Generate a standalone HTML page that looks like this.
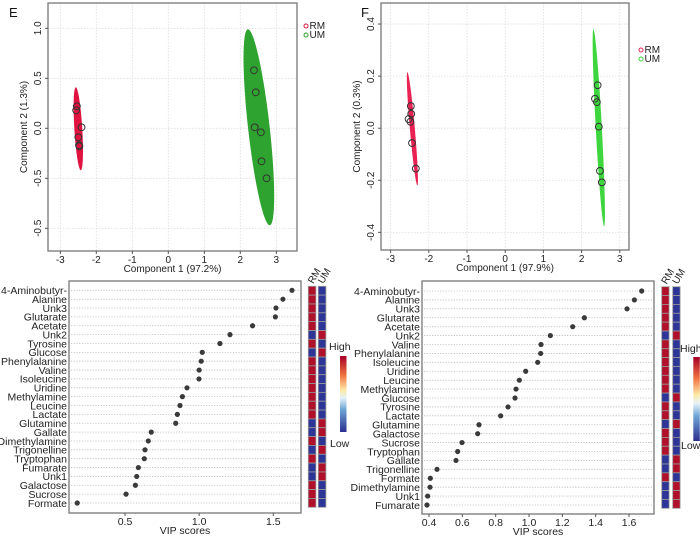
<!DOCTYPE html>
<html><head><meta charset="utf-8"><style>
html,body{margin:0;padding:0;background:#fff;}
svg{display:block;font-family:"Liberation Sans",Arial,sans-serif;}
</style></head><body>
<svg id="c" width="700" height="536" viewBox="0 0 700 536" xmlns="http://www.w3.org/2000/svg">
<defs>
<linearGradient id="cb" x1="0" y1="1" x2="0" y2="0">
<stop offset="0" stop-color="#2b2f8f"/><stop offset="0.3" stop-color="#6fa6d6"/><stop offset="0.45" stop-color="#e6f3f8"/><stop offset="0.55" stop-color="#fde9a6"/><stop offset="0.75" stop-color="#f0703f"/><stop offset="1" stop-color="#a50026"/>
</linearGradient>
</defs>
</svg>
<script>
// ---- Panel E data ----
const eRMx=[-2.54,-2.56,-2.41,-2.50,-2.48,-2.47];
const eRMy=[0.22,0.18,0.01,-0.09,-0.17,-0.18];
const eUMx=[2.38,2.43,2.40,2.57,2.59,2.73];
const eUMy=[0.58,0.36,0.01,-0.04,-0.33,-0.50];
const eXTicks=[-3,-2,-1,0,1,2,3];
const eYTicks=[1.0,0.5,0.0,-0.5,-1.0];
const eYTickLabels=["1.0","0.5","0.0","-0.5","-0.5"];
// ellipse endpoints [x1,y1,x2,y2,halfwidth(data x units)]
const eRMEll=[-2.57,0.41,-2.43,-0.42,0.11];
const eUMEll=[2.21,0.99,2.82,-0.97,0.3];
// ---- Panel F data ----
const fRMx=[-2.47,-2.46,-2.53,-2.48,-2.44,-2.34];
const fRMy=[0.085,0.055,0.035,0.025,-0.057,-0.155];
const fUMx=[2.42,2.35,2.40,2.45,2.48,2.53];
const fUMy=[0.165,0.113,0.10,0.006,-0.164,-0.208];
const fXTicks=[-3,-2,-1,0,1,2,3];
const fYTicks=[0.4,0.2,0.0,-0.2,-0.4];
const fYTickLabels=["0.4","0.2","0.0","-0.2","-0.4"];
const fRMEll=[-2.56,0.215,-2.30,-0.22,0.065];
const fUMEll=[2.31,0.38,2.59,-0.377,0.08];
// ---- Panel G data ----
const gNames=["4-Aminobutyr-","Alanine","Unk3","Glutarate","Acetate","Unk2","Tyrosine","Glucose","Phenylalanine","Valine","Isoleucine","Uridine","Methylamine","Leucine","Lactate","Glutamine","Gallate","Dimethylamine","Trigonelline","Tryptophan","Fumarate","Unk1","Galactose","Sucrose","Formate"];
const gVip=[1.626,1.565,1.518,1.514,1.36,1.208,1.14,1.021,1.014,1.0,0.999,0.918,0.887,0.871,0.853,0.842,0.677,0.657,0.635,0.63,0.59,0.579,0.57,0.507,0.178];
const gRMHigh=[1,1,1,1,1,0,1,0,1,1,1,1,1,1,1,0,0,1,0,1,0,0,1,1,1];
const gXTicks=[0.5,1.0,1.5];
// ---- Panel H data ----
const hNames=["4-Aminobutyr-","Alanine","Unk3","Glutarate","Acetate","Unk2","Valine","Phenylalanine","Isoleucine","Uridine","Leucine","Methylamine","Glucose","Tyrosine","Lactate","Glutamine","Galactose","Sucrose","Tryptophan","Gallate","Trigonelline","Formate","Dimethylamine","Unk1","Fumarate"];
const hVip=[1.676,1.632,1.588,1.332,1.262,1.128,1.072,1.07,1.052,0.98,0.942,0.922,0.916,0.874,0.83,0.70,0.692,0.598,0.572,0.562,0.448,0.408,0.406,0.392,0.388];
const hRMHigh=[1,1,1,1,1,0,1,1,1,1,1,1,0,1,1,0,1,1,1,0,0,1,0,0,0];
const hXTicks=[0.4,0.6,0.8,1.0,1.2,1.4,1.6];

const svg=document.getElementById('c');
const NS='http://www.w3.org/2000/svg';
function el(tag,attrs,parent,text){const e=document.createElementNS(NS,tag);for(const k in attrs)e.setAttribute(k,attrs[k]);if(text!==undefined)e.textContent=text;(parent||svg).appendChild(e);return e;}

function scorePlot(cfg){
  const g=el('g',{});
  
  
  const sx=v=>cfg.x0+v*cfg.kx, sy=v=>cfg.y0-v*cfg.ky;
  cfg.xt.forEach(t=>{const l=el('line',{x1:sx(t),x2:sx(t),y1:cfg.top,y2:cfg.bot,stroke:'#ddd','stroke-dasharray':'1.5,1.5','stroke-width':0.8},g);});
  cfg.yt.forEach(t=>{const l=el('line',{x1:cfg.left,x2:cfg.right,y1:sy(t),y2:sy(t),stroke:'#ddd','stroke-dasharray':'1.5,1.5','stroke-width':0.8},g);});
  [[cfg.rmE,cfg.rmC,'rm-ellipse'],[cfg.umE,cfg.umC,'um-ellipse']].forEach(([e,c,n])=>{
    const x1=sx(e[0]),y1=sy(e[1]),x2=sx(e[2]),y2=sy(e[3]);
    const cx=(x1+x2)/2,cy=(y1+y2)/2,len=Math.hypot(x2-x1,y2-y1)/2;
    const ang=Math.atan2(y2-y1,x2-x1)*180/Math.PI;
    const p=el('ellipse',{cx:cx,cy:cy,rx:len,ry:e[4]*cfg.kx,fill:c,transform:`rotate(${ang} ${cx} ${cy})`},g);
    
  });
  cfg.rmX.forEach((v,i)=>{const c=el('circle',{cx:sx(v),cy:sy(cfg.rmY[i]),r:3.4,fill:'none',stroke:'#333','stroke-width':1},g);});
  cfg.umX.forEach((v,i)=>{const c=el('circle',{cx:sx(v),cy:sy(cfg.umY[i]),r:3.4,fill:'none',stroke:'#333','stroke-width':1},g);});
  const b=el('rect',{x:cfg.left,y:cfg.top,width:cfg.right-cfg.left,height:cfg.bot-cfg.top,fill:'none',stroke:'#777','stroke-width':1.3},g);
  
  cfg.xt.forEach(t=>{el('line',{x1:sx(t),x2:sx(t),y1:cfg.bot,y2:cfg.bot+3,stroke:'#555'},g);const tx=el('text',{x:sx(t),y:cfg.bot+12,'font-size':10,'text-anchor':'middle',fill:'#222'},g,String(t));});
  cfg.yt.forEach((t,i)=>{el('line',{x1:cfg.left-3,x2:cfg.left,y1:sy(t),y2:sy(t),stroke:'#555'},g);const X=cfg.left-7;const tx=el('text',{x:X,y:sy(t),'font-size':10,'text-anchor':'middle',fill:'#222',transform:`rotate(-90 ${X} ${sy(t)})`},g,cfg.ytl[i]);});
  const xt=el('text',{x:(cfg.left+cfg.right)/2,y:cfg.bot+21,'font-size':10,'text-anchor':'middle',fill:'#222'},g,cfg.xTitle);
  const yx=cfg.left-21,yy=(cfg.top+cfg.bot)/2;
  const yt=el('text',{x:yx,y:yy,'font-size':10,'text-anchor':'middle',fill:'#222',transform:`rotate(-90 ${yx} ${yy})`},g,cfg.yTitle);
  const pl=el('text',{x:cfg.labX,y:cfg.labY,'font-size':13,fill:'#111'},g,cfg.label);
  [['RM',cfg.rmC,0],['UM',cfg.umC,1]].forEach(([t,c,i])=>{
    const c1=el('circle',{cx:cfg.legX,cy:cfg.legY+i*9-3,r:2,fill:'none',stroke:c,'stroke-width':1},g);
    const tx=el('text',{x:cfg.legX+3.5,y:cfg.legY+i*9,'font-size':10,fill:'#222'},g,t);
  });
}

scorePlot({name:'score-plot-e',left:48,right:297,top:3,bot:251,x0:168.3,kx:36,y0:128.3,ky:100,xt:eXTicks,yt:eYTicks,ytl:eYTickLabels,
  rmX:eRMx,rmY:eRMy,umX:eUMx,umY:eUMy,rmE:eRMEll,umE:eUMEll,rmC:'#e0123f',umC:'#2fa32f',
  xTitle:'Component 1 (97.2%)',yTitle:'Component 2 (1.3%)',label:'E',labX:9,labY:17,legX:306,legY:29});
scorePlot({name:'score-plot-f',left:381,right:629,top:3,bot:250,x0:505.2,kx:38.2,y0:128.2,ky:260.4,xt:fXTicks,yt:fYTicks,ytl:fYTickLabels,
  rmX:fRMx,rmY:fRMy,umX:fUMx,umY:fUMy,rmE:fRMEll,umE:fUMEll,rmC:'#ea2254',umC:'#3ed63e',
  xTitle:'Component 1 (97.9%)',yTitle:'Component 2 (0.3%)',label:'F',labX:361,labY:17,legX:641,legY:53});

function vipPlot(cfg){
  const g=el('g',{});
  
  
  const sx=v=>cfg.xA+(v-cfg.vA)*cfg.kx;
  const n=cfg.names.length;
  const sy=i=>cfg.r0+i*(cfg.r1-cfg.r0)/(n-1);
  el('rect',{x:cfg.left,y:cfg.top,width:cfg.right-cfg.left,height:cfg.bot-cfg.top,fill:'#fff'},g);
  cfg.names.forEach((nm,i)=>{
    const l=el('line',{x1:cfg.left+2,x2:cfg.right-2,y1:sy(i),y2:sy(i),stroke:'#bbb','stroke-dasharray':'1.2,1.5','stroke-width':0.8},g);
    const t=el('text',{x:cfg.labEnd,y:sy(i)+3.8,'font-size':10.5,'text-anchor':'end',fill:'#222'},g,nm);
  });
  cfg.vip.forEach((v,i)=>{const c=el('circle',{cx:sx(v),cy:sy(i),r:2.6,fill:'#3a3a3a'},g);});
  const b=el('rect',{x:cfg.left,y:cfg.top,width:cfg.right-cfg.left,height:cfg.bot-cfg.top,fill:'none',stroke:'#777','stroke-width':1.3},g);
  cfg.xt.forEach(t=>{el('line',{x1:sx(t),x2:sx(t),y1:cfg.bot,y2:cfg.bot+3,stroke:'#555'},g);const tx=el('text',{x:sx(t),y:cfg.bot+12,'font-size':10.5,'text-anchor':'middle',fill:'#222'},g,t.toFixed(1));});
  const xt=el('text',{x:(cfg.left+cfg.right)/2,y:cfg.bot+21,'font-size':10.5,'text-anchor':'middle',fill:'#222'},g,'VIP scores');
  const pl=el('text',{x:cfg.labX,y:cfg.labY,'font-size':13,fill:'#111'},g,cfg.label);
  const ch=(cfg.hB-cfg.hT)/n;
  cfg.rmHigh.forEach((h,i)=>{
    const r1=el('rect',{x:cfg.hx1,y:cfg.hT+i*ch,width:cfg.cw,height:ch,fill:h?'#b0102a':'#2d3597',stroke:'#999','stroke-width':0.8},g);
    const r2=el('rect',{x:cfg.hx2,y:cfg.hT+i*ch,width:cfg.cw,height:ch,fill:h?'#2d3597':'#b0102a',stroke:'#999','stroke-width':0.8},g);
  });
  [['RM',cfg.hx1],['UM',cfg.hx2]].forEach(([t,x])=>{const X=x+5,Y=cfg.hT-2;const tx=el('text',{x:X,y:Y,'font-size':10,fill:'#222',transform:`rotate(-60 ${X} ${Y})`},g,t);});
  const cb=el('rect',{x:cfg.cbX,y:cfg.cbT,width:6.5,height:cfg.cbB-cfg.cbT,fill:'url(#cb)'},g);
  const hi=el('text',{x:cfg.hiX,y:cfg.hiY,'font-size':10.5,fill:'#222'},g,'High');
  const lo=el('text',{x:cfg.hiX+1,y:cfg.loY,'font-size':10.5,fill:'#222'},g,'Low');
}

vipPlot({name:'vip-plot-g',names:gNames,vip:gVip,rmHigh:gRMHigh,xt:gXTicks,left:69,right:301,top:281,bot:513,xA:125,vA:0.5,kx:148.3,
  r0:290.3,r1:503,labEnd:67,labX:10,labY:284,
  hx1:308.3,hx2:318.3,cw:7.6,hT:286.3,hB:507.3,cbX:340,cbT:356,cbB:432,hiX:329,hiY:350,loY:447});
vipPlot({name:'vip-plot-h',names:hNames,vip:hVip,rmHigh:hRMHigh,xt:hXTicks,left:422,right:654,top:281,bot:514,xA:429,vA:0.4,kx:166.7,
  r0:291,r1:505,labEnd:420,labX:356,labY:284,
  hx1:661.7,hx2:672.7,cw:7.4,hT:286.7,hB:508.3,cbX:693.3,cbT:357,cbB:441,hiX:680,hiY:352,loY:449});
</script>
</body></html>
